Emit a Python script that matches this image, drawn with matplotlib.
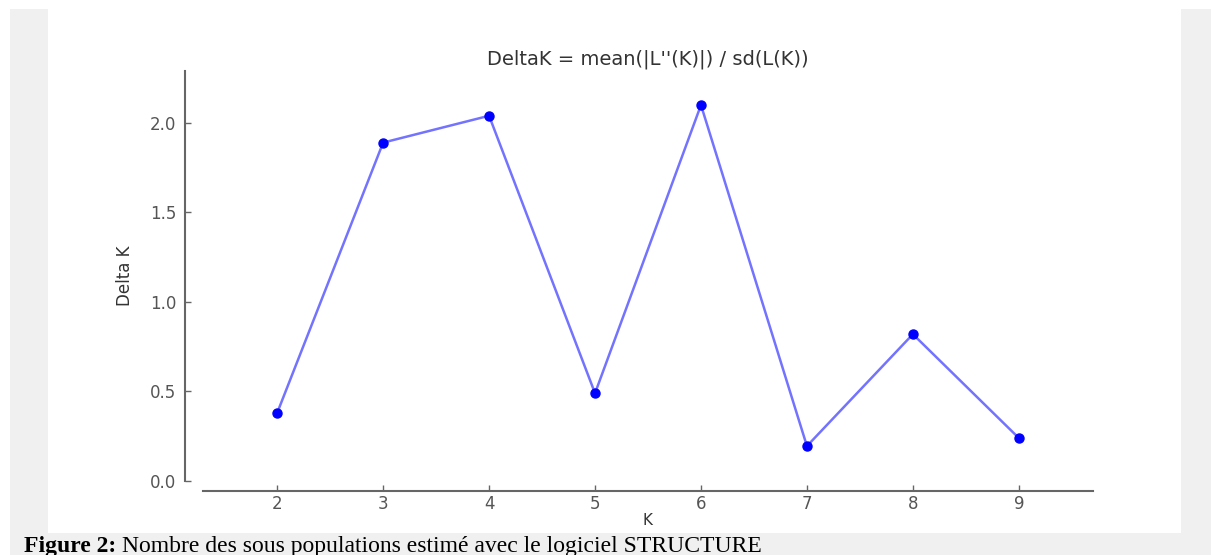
import numpy as np
import matplotlib

matplotlib.use('Agg')

import matplotlib.pyplot as plt
from matplotlib.patches import Rectangle

# Delta K values by number of clusters K
k_values = [2, 3, 4, 5, 6, 7, 8, 9]
delta_k = [0.38, 1.89, 2.04, 0.49, 2.10, 0.195, 0.82, 0.24]
y_ticks = [0.0, 0.5, 1.0, 1.5, 2.0]

W, H = 1211, 555


def fx(px):
    return px / W


def fy(py):
    return 1 - py / H


def plot_deltak():
    fig = plt.figure(figsize=(W / 100, H / 100), dpi=100)
    fig.patch.set_facecolor('white')

    # page background: grey frame with white panel
    fig.patches.append(Rectangle((fx(10), 0), 1 - fx(10), fy(9), transform=fig.transFigure,
                                 facecolor='#f0f0f0', edgecolor='none', zorder=-2))
    fig.patches.append(Rectangle((fx(48), fy(533)), fx(1181) - fx(48), fy(9) - fy(533),
                                 transform=fig.transFigure, facecolor='white',
                                 edgecolor='none', zorder=-1))

    ax = fig.add_axes([fx(203), fy(481), fx(1093) - fx(203), fy(71) - fy(481)])
    ax.patch.set_alpha(0)
    ax.plot(k_values, delta_k, color='blue', alpha=0.55, lw=1.8, zorder=2)
    ax.plot(k_values, delta_k, 'o', color='blue', ms=6.5, mec='blue', zorder=3)

    ax.set_xlim(1.3, 9.7)
    ax.set_ylim(0, 2.29)
    ax.set_xticks(k_values)
    ax.set_yticks(y_ticks)
    ax.set_yticklabels(['%.1f' % v for v in y_ticks])

    for s in ('top', 'right'):
        ax.spines[s].set_visible(False)
    ax.spines['left'].set_position(('outward', 13))
    ax.spines['bottom'].set_position(('outward', 7))
    for s in ('left', 'bottom'):
        ax.spines[s].set_color('#666666')
        ax.spines[s].set_linewidth(1.5)
    ax.tick_params(direction='in', length=4, width=1, colors='#666666',
                   labelcolor='#555555', labelsize=12)
    ax.tick_params(axis='x', pad=3)
    ax.tick_params(axis='y', pad=6)

    ax.set_title("DeltaK = mean(|L''(K)|) / sd(L(K))", fontsize=14, color='#333333', pad=5)
    ax.set_xlabel('K', fontsize=11, color='#333333', labelpad=0)
    ax.set_ylabel('Delta K', fontsize=12, color='#333333', labelpad=12,
                  family=['Liberation Sans Narrow', 'DejaVu Sans'])

    fig.text(fx(24), fy(552), 'Figure 2:', family='Liberation Serif', weight='bold',
             fontsize=17, va='baseline', ha='left')
    fig.text(fx(122), fy(552), 'Nombre des sous populations estimé avec le logiciel STRUCTURE',
             family='Liberation Serif', fontsize=17, va='baseline', ha='left')

    fig.savefig('out.png', dpi=100)


plot_deltak()
